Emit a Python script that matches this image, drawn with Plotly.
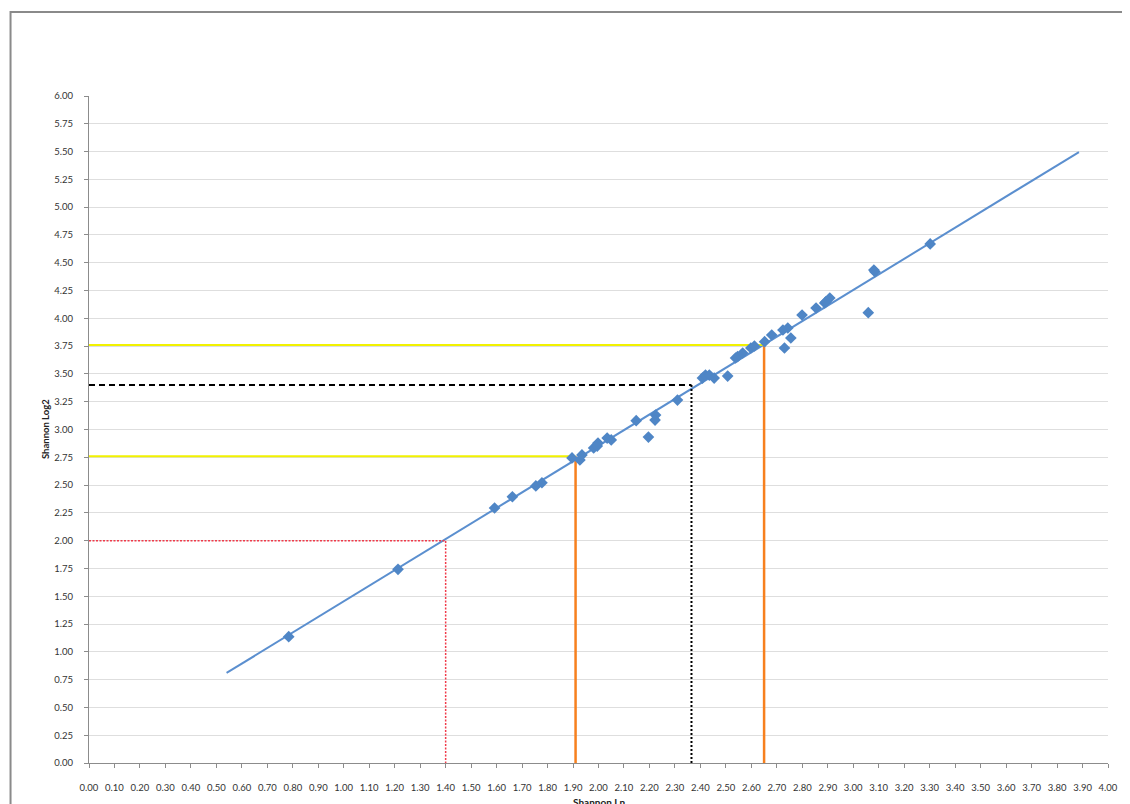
import plotly.graph_objects as go

# Observed diversity values (Shannon Ln vs Shannon Log2)
shannon_ln = [0.784, 1.213, 1.592, 1.662, 1.754, 1.778, 1.896, 1.927, 1.935, 1.981,
              1.995, 1.998, 2.050, 2.034, 2.148, 2.196, 2.224, 2.222, 2.310, 2.408,
              2.420, 2.435, 2.454, 2.507, 2.538, 2.546, 2.566, 2.598, 2.612, 2.652,
              2.680, 2.724, 2.743, 2.730, 2.755, 2.799, 2.854, 2.888, 2.893, 2.908,
              3.059, 3.081, 3.085, 3.302]
shannon_log2 = [1.136, 1.742, 2.294, 2.395, 2.492, 2.521, 2.744, 2.726, 2.771, 2.834,
                2.851, 2.878, 2.906, 2.923, 3.079, 2.932, 3.130, 3.085, 3.265, 3.463,
                3.490, 3.490, 3.463, 3.481, 3.643, 3.655, 3.688, 3.733, 3.751, 3.790,
                3.850, 3.895, 3.913, 3.733, 3.823, 4.030, 4.093, 4.138, 4.150, 4.183,
                4.051, 4.435, 4.419, 4.669]

# Linear trend line endpoints
trend_x = [0.540, 3.886]
trend_y = [0.810, 5.496]

# Reference read-offs
yellow_low_x, yellow_low_y = [0.0, 1.91, 1.91], [2.76, 2.76, 0.0]
yellow_high_x, yellow_high_y = [0.0, 2.65, 2.65], [3.76, 3.76, 0.0]
black_x, black_y = 2.365, 3.40
red_x, red_y = 1.40, 2.00

x_ticks = [round(i * 0.1, 2) for i in range(41)]
y_ticks = [round(i * 0.25, 2) for i in range(25)]

FONT = "Lato"
BLUE = "#4f86c6"
ORANGE = "#f7801e"
YELLOW = "#f2f200"

fig = go.Figure()

# trend line
fig.add_trace(go.Scatter(x=trend_x, y=trend_y, mode="lines",
                         line=dict(color="#5b8fcf", width=2), hoverinfo="skip"))

# yellow horizontals
fig.add_trace(go.Scatter(x=yellow_low_x[:2], y=yellow_low_y[:2], mode="lines",
                         line=dict(color=YELLOW, width=2)))
fig.add_trace(go.Scatter(x=yellow_high_x[:2], y=yellow_high_y[:2], mode="lines",
                         line=dict(color=YELLOW, width=2)))
# orange verticals
fig.add_trace(go.Scatter(x=yellow_low_x[1:], y=yellow_low_y[1:], mode="lines",
                         line=dict(color=ORANGE, width=2.5)))
fig.add_trace(go.Scatter(x=yellow_high_x[1:], y=yellow_high_y[1:], mode="lines",
                         line=dict(color=ORANGE, width=2.5)))
# black dashed horizontal + dotted vertical
fig.add_trace(go.Scatter(x=[0, black_x], y=[black_y, black_y], mode="lines",
                         line=dict(color="black", width=2, dash="6px,4px")))
fig.add_trace(go.Scatter(x=[black_x, black_x], y=[black_y, 0], mode="lines",
                         line=dict(color="black", width=2, dash="2px,2px")))
# red dotted
fig.add_trace(go.Scatter(x=[0, red_x, red_x], y=[red_y, red_y, 0], mode="lines",
                         line=dict(color="#f03a4a", width=1.5, dash="2px,1.5px")))

# data points
fig.add_trace(go.Scatter(x=shannon_ln, y=shannon_log2, mode="markers",
                         marker=dict(symbol="diamond", size=9, color=BLUE)))

fig.update_layout(
    width=1122, height=796,
    margin=dict(l=81, r=22, t=88, b=41),
    paper_bgcolor="white", plot_bgcolor="white",
    showlegend=False,
    font=dict(family=FONT, size=10, color="#333333"),
    xaxis=dict(range=[0, 4], tickmode="array", tickvals=x_ticks,
               ticktext=[f"{v:.2f}" for v in x_ticks],
               showgrid=False, zeroline=False, showline=True, linecolor="#8c8c8c",
               linewidth=1, ticks="outside", ticklen=4, tickcolor="#8c8c8c",
               ticklabelstandoff=12,
               tickfont=dict(size=9.5, family=FONT), tickangle=0),
    yaxis=dict(range=[0, 6], tickmode="array", tickvals=y_ticks,
               ticktext=[f"{v:.2f}" for v in y_ticks],
               showgrid=True, gridcolor="#dedede", gridwidth=1,
               zeroline=False, showline=True, linecolor="#8c8c8c", linewidth=1,
               ticks="outside", ticklen=4, tickcolor="#8c8c8c",
               ticklabelstandoff=9,
               tickfont=dict(size=9.5, family=FONT)),
    annotations=[
        dict(text="<b>Shannon Log2</b>", xref="paper", yref="paper",
             x=-0.05, y=0.5, textangle=-90, showarrow=False,
             font=dict(size=9.5, family=FONT, color="#222")),
        dict(text="<b>Shannon Ln</b>", xref="paper", yref="paper",
             x=0.5, y=-0.058, yanchor="middle", showarrow=False,
             font=dict(size=10, family=FONT, color="#222")),
    ],
    shapes=[
        dict(type="rect", xref="paper", yref="paper",
             x0=-0.077, x1=1.03, y0=-0.2, y1=1.126,
             line=dict(color="#8a8a8a", width=2), fillcolor="rgba(0,0,0,0)"),
    ],
)

fig.write_html("out.html")
